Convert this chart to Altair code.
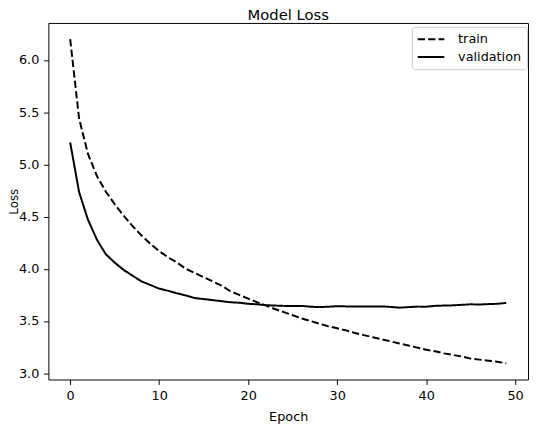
import altair as alt
import pandas as pd

epochs = list(range(50))
train_loss = [6.20, 5.44, 5.10, 4.89, 4.74, 4.62, 4.51, 4.41, 4.32, 4.24,
              4.17, 4.11, 4.06, 4.00, 3.96, 3.92, 3.88, 3.84, 3.785, 3.75,
              3.715, 3.68, 3.648, 3.615, 3.585, 3.555, 3.525, 3.50, 3.475, 3.45,
              3.43, 3.41, 3.385, 3.365, 3.345, 3.325, 3.305, 3.285, 3.265, 3.245,
              3.225, 3.21, 3.19, 3.175, 3.16, 3.14, 3.13, 3.12, 3.11, 3.095]
val_loss = [5.21, 4.735, 4.47, 4.28, 4.14, 4.06, 3.99, 3.935, 3.88, 3.845,
            3.81, 3.79, 3.765, 3.745, 3.72, 3.71, 3.70, 3.69, 3.68, 3.675,
            3.665, 3.66, 3.652, 3.648, 3.645, 3.643, 3.645, 3.637, 3.633, 3.637,
            3.642, 3.64, 3.64, 3.638, 3.64, 3.64, 3.635, 3.628, 3.633, 3.638,
            3.637, 3.645, 3.648, 3.65, 3.655, 3.66, 3.658, 3.662, 3.665, 3.673]
series_names = ["train", "validation"]
x_ticks = [0, 10, 20, 30, 40, 50]
y_ticks = [3.0, 3.5, 4.0, 4.5, 5.0, 5.5, 6.0]

df = pd.DataFrame({
    "Epoch": epochs + epochs,
    "Loss": train_loss + val_loss,
    "series": [series_names[0]] * len(epochs) + [series_names[1]] * len(epochs),
})

# matplotlib-like 5% margins
xmin, xmax = min(epochs), max(epochs)
xm = (xmax - xmin) * 0.05
allv = train_loss + val_loss
ymin, ymax = min(allv), max(allv)
ym = (ymax - ymin) * 0.05

W, H = 487, 362
FONT = "DejaVu Sans"

chart = alt.Chart(df).mark_line(
    strokeWidth=2, color="black", strokeCap="butt", strokeJoin="round"
).encode(
    x=alt.X("Epoch:Q",
            scale=alt.Scale(domain=[xmin - xm, xmax + xm], nice=False, zero=False),
            axis=alt.Axis(values=x_ticks, format="d", title="Epoch",
                          titlePadding=9, titleFontSize=13, titleFontWeight="normal",
                          labelFontSize=13, labelPadding=5, tickSize=5,
                          domain=False, grid=False, tickColor="black",
                          labelColor="black", titleColor="black")),
    y=alt.Y("Loss:Q",
            scale=alt.Scale(domain=[ymin - ym, ymax + ym], nice=False, zero=False),
            axis=alt.Axis(values=y_ticks, format=".1f", title="Loss",
                          titleX=-40, titleY=H / 2, titleAngle=270,
                          titleBaseline="top", titleAlign="center",
                          titleFontSize=12, titleFontWeight="normal",
                          labelFontSize=13, labelPadding=4.7, tickSize=5,
                          domain=False, grid=False, tickColor="black",
                          labelColor="black", titleColor="black")),
    strokeDash=alt.StrokeDash(
        "series:N",
        scale=alt.Scale(domain=series_names, range=[[7.4, 3.2], [1, 0]]),
        legend=alt.Legend(title=None, orient="none", legendX=369, legendY=4,
                          symbolType="stroke", symbolSize=729, symbolStrokeWidth=2,
                          symbolStrokeColor="black", labelFontSize=13,
                          clipHeight=15,
                          labelColor="black", padding=5, rowPadding=3,
                          labelOffset=13, fillColor="white",
                          strokeColor="#cccccc", cornerRadius=3)),
).properties(
    width=W, height=H,
    title=alt.TitleParams("Model Loss", fontSize=15, fontWeight="normal",
                          anchor="middle", offset=0, baseline="alphabetic",
                          frame="group", dy=12, color="black"),
    autosize="none",
    padding={"left": 41, "top": 12, "right": 2, "bottom": 42},
).configure(font=FONT).configure_view(stroke="black", strokeWidth=1)

chart.save("out.html", embed_options={"renderer": "svg", "actions": False})
